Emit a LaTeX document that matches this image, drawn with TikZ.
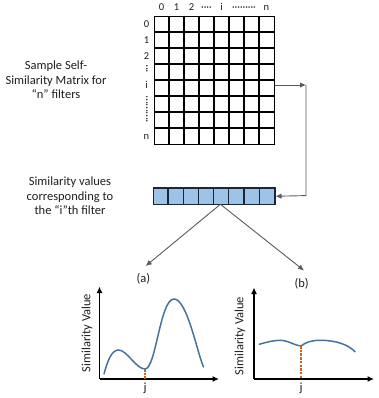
\documentclass[tikz,border=0pt]{standalone}
\usepackage{fontspec}
\setmainfont{Carlito}
\usetikzlibrary{arrows.meta}
\definecolor{curveblue}{RGB}{70,114,160}
\definecolor{dashorange}{RGB}{200,100,30}
\definecolor{barfill}{RGB}{157,195,230}
\definecolor{barborder}{RGB}{28,36,56}
\definecolor{conngray}{RGB}{90,90,90}
\definecolor{textgray}{RGB}{30,30,30}
\begin{document}
\begin{tikzpicture}[x=1pt,y=-1pt,
  lbl/.style={font=\fontsize{12.5}{14.5}\selectfont, text=textgray, align=center, inner sep=0pt},
  small/.style={font=\fontsize{10.5}{12}\selectfont, text=textgray, inner sep=0pt, text height=6.6pt, text depth=0pt},
  gridline/.style={draw=black, line width=1.3pt},
  barline/.style={draw=barborder, line width=1.2pt},
  conn/.style={draw=conngray, line width=0.9pt, -{Latex[length=6pt,width=5.5pt]}},
  axis/.style={draw=black, line width=1.2pt, -{Latex[length=6.5pt,width=6pt]}},
  curve/.style={draw=curveblue, line width=1.5pt, line cap=round},
  guide/.style={draw=dashorange, line width=1.3pt, dash pattern=on 2.5pt off 1.2pt},
]
\useasboundingbox (0,0) rectangle (378,398);

% ---- self-similarity matrix ----
\node[gridline, minimum width=120pt, minimum height=128pt, inner sep=0pt, anchor=north west] (grid) at (154,16) {};
\foreach \k in {1,...,7}{
  \draw[gridline] ({154+\k*15},16) -- ({154+\k*15},144);
  \draw[gridline] (154,{16+\k*16}) -- (274,{16+\k*16});
}
% column labels
\node[small] (c0) at (161.5,7.5) {0};
\node[small] (c1) at (176.5,7.5) {1};
\node[small] (c2) at (191.5,7.5) {2};
\node[small] (c3) at (206.5,7.5) {····};
\node[small] (c4) at (221.5,7.5) {i};
\node[small] (c5) at (244,7.5) {·········};
\node[small] (c6) at (266.5,7.5) {n};
% row labels
\node[small] (r0) at (146.5,24) {0};
\node[small] (r1) at (146.5,40) {1};
\node[small] (r2) at (146.5,56) {2};
\node[small, rotate=90] (r3) at (146.5,69) {···};
\node[small] (r4) at (146.5,85) {i};
\node[small, rotate=90] (r5) at (146.5,109.5) {··········};
\node[small] (r6) at (146.5,136) {n};

% ---- texts on the left ----
\node[lbl] (t1) at (56,80) {Sample Self-\\Similarity Matrix for\\“n” filters};
\node[lbl] (t2) at (70,196) {Similarity values\\corresponding to\\the “i”th filter};

% ---- similarity vector ----
\node[barline, fill=barfill, minimum width=121.6pt, minimum height=16.7pt, inner sep=0pt, anchor=north west] (bar) at (152.7,187.3) {};
\foreach \k in {1,...,7}{
  \draw[barline] ({152.7+\k*15.2},187.3) -- ({152.7+\k*15.2},204);
}

% ---- connector matrix -> vector ----
\coordinate (gi) at (274,85);
\coordinate (corner) at (306,85);
\coordinate (corner2) at (306,195.6);
\draw[conn] (grid.east |- gi) -- (corner);
\draw[conn] (corner) -- (corner2) -- (bar.east);

% ---- split arrows ----
\coordinate (bi) at (220.4,204.3);
\coordinate (ea) at (145.7,266);
\coordinate (eb) at (304,270.5);
\draw[conn] (bi) -- (ea);
\draw[conn] (bi) -- (eb);
\node[lbl] (la) at (143.3,278.3) {(a)};
\node[lbl] (lb) at (301.7,283.3) {(b)};

% ---- plot (a) ----
\coordinate (oa) at (99.5,379);
\coordinate (ya) at (99.5,286.5);
\coordinate (xa) at (219,379);
\draw[axis] (oa) -- (ya);
\draw[axis] (oa) -- (xa);
\draw[curve] (104,374) .. controls (107.5,361) and (111.5,350) .. (118.5,350)
  .. controls (127,350) and (136,369) .. (145,369)
  .. controls (156,369) and (160,299) .. (174,299)
  .. controls (187,299) and (197,352) .. (203.5,367);
\coordinate (ma) at (145,369);
\draw[guide] (ma) -- (oa -| ma);
\node[lbl, rotate=90] (sa) at (87,333) {Similarity Value};
\node[lbl, anchor=base] (ja) at (145,391.5) {j};

% ---- plot (b) ----
\coordinate (ob) at (254,379);
\coordinate (yb) at (254,287.5);
\coordinate (xb) at (374,379);
\draw[axis] (ob) -- (yb);
\draw[axis] (ob) -- (xb);
\draw[curve] (259.3,344.3) .. controls (267,342) and (274,340.3) .. (280,340.3)
  .. controls (288,340.3) and (296,346) .. (301,346)
  .. controls (306,342) and (312,340.3) .. (320,340.3)
  .. controls (336,340.3) and (348,344.5) .. (355,351.7);
\coordinate (mb) at (301,346);
\draw[guide] (mb) -- (ob -| mb);
\node[lbl, rotate=90] (sb) at (240,336) {Similarity Value};
\node[lbl, anchor=base] (jb) at (301,391.5) {j};
\end{tikzpicture}
\end{document}
